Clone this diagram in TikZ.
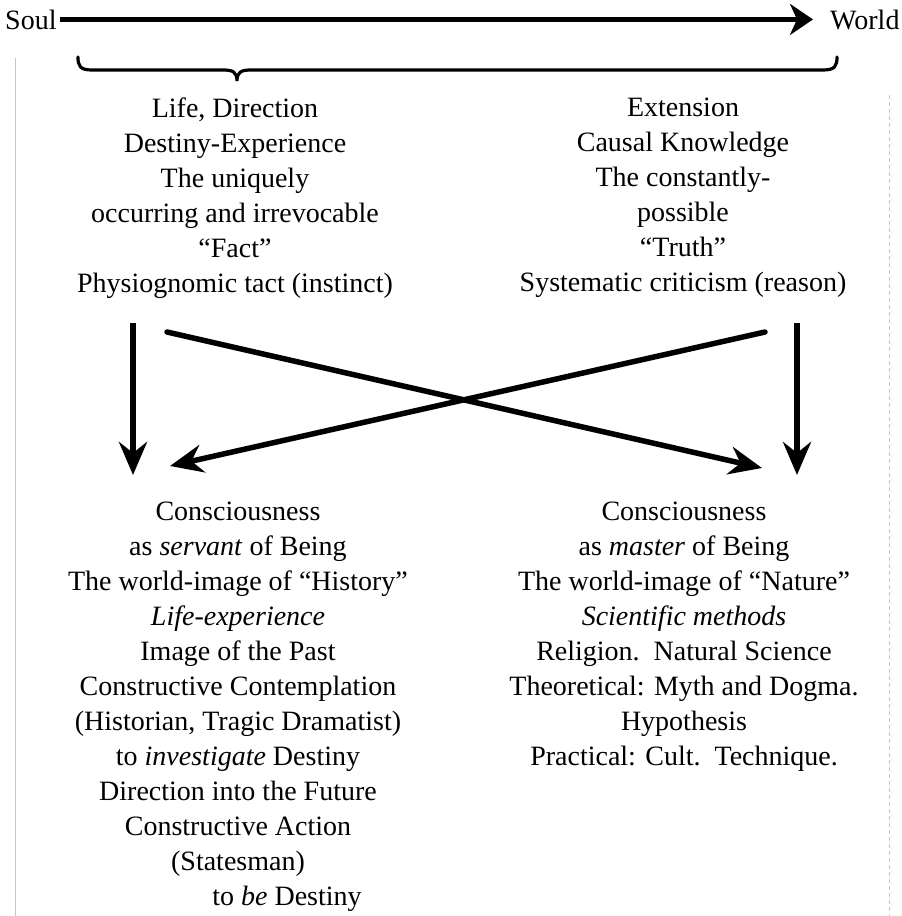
\documentclass[tikz,border=0pt]{standalone}
\usepackage{fontspec}
\setmainfont{Liberation Serif}
\usetikzlibrary{arrows.meta}
\begin{document}
\begin{tikzpicture}[x=1pt,y=-1pt,
  txt/.style={font=\fontsize{28}{35}\selectfont, align=center, inner sep=0pt, anchor=north},
  lbl/.style={font=\fontsize{28}{35}\selectfont, inner sep=0pt, anchor=base west},
  bigarrow/.style={line width=5.5pt, -{Stealth[length=33pt,width=28pt,inset=11pt]}},
  toparrow/.style={line width=5pt, -{Stealth[length=23pt,width=31pt,inset=7pt]}},
  bracestyle/.style={line width=3.2pt, line cap=round},
  scanline/.style={gray!45, line width=0.8pt}]
\useasboundingbox (0,0) rectangle (902,916);
% faint page edge lines of the scan
\draw[scanline] (15,58) -- (15,916);
\draw[scanline, dash pattern=on 4pt off 3pt] (889,95) -- (889,916);
% top arrow
\node[lbl] (soul) at (5,29) {Soul};
\node[lbl] (world) at (830,29) {World};
\draw[toparrow, shorten <=3pt, shorten >=17pt] (soul.east) -- (soul.east -| world.west);
% brace
\draw[bracestyle] (78,57) .. controls (78,66) and (80,70) .. (92,70) -- (223,70)
  .. controls (233,70) and (237,72) .. (237,81)
  .. controls (237,72) and (241,70) .. (251,70) -- (823,70)
  .. controls (835,70) and (837,66) .. (837,57);
% upper columns
\node[txt] (tl) at (235,98) {Life, Direction\\Destiny-Experience\\The uniquely\\occurring and irrevocable\\“Fact”\\Physiognomic tact (instinct)};
\node[txt] (tr) at (683,98) {Extension\\Causal Knowledge\\The constantly-\\possible\\“Truth”\\Systematic criticism (reason)};
% lower columns
\node[txt] (bl) at (238,502) {Consciousness\\as \textit{servant} of Being\\The world-image of “History”\\\textit{Life-experience}\\Image of the Past\\Constructive Contemplation\\(Historian, Tragic Dramatist)\\to \textit{investigate} Destiny\\Direction into the Future\\Constructive Action\\(Statesman)\\\hspace*{98pt}to \textit{be} Destiny};
\node[txt] (br) at (684,502) {Consciousness\\as \textit{master} of Being\\The world-image of “Nature”\\\textit{Scientific methods}\\Religion.\ \ Natural Science\\Theoretical: Myth and Dogma.\\Hypothesis\\Practical: Cult.\ \ Technique.};
% arrow end points
\coordinate (lvs) at (133,323);
\coordinate (lve) at (133,475);
\coordinate (rvs) at (797,323);
\coordinate (rve) at (797,475);
\coordinate (xas) at (167,332);
\coordinate (xae) at (762,468);
\coordinate (xbs) at (765,332);
\coordinate (xbe) at (170,466);
\draw[bigarrow] (lvs) -- (lve);
\draw[bigarrow] (rvs) -- (rve);
\draw[bigarrow, line cap=round] (xas) -- (xae);
\draw[bigarrow, line cap=round] (xbs) -- (xbe);
\end{tikzpicture}
\end{document}
